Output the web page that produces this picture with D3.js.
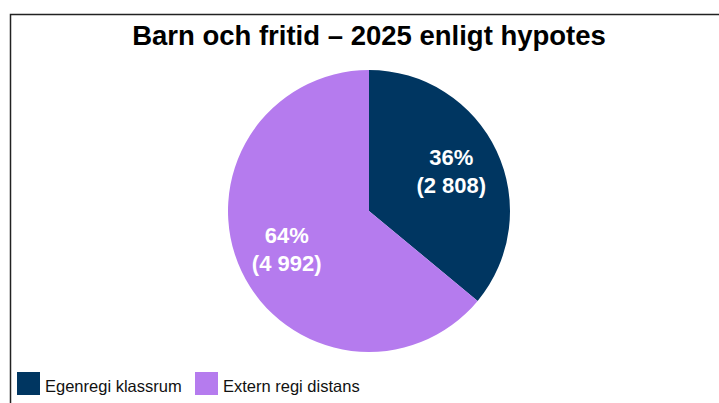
<!DOCTYPE html>
<html>
<head>
<meta charset="utf-8">
<script src="https://cdn.jsdelivr.net/npm/d3@7"></script>
<style>
  body { margin: 0; background: #fff; }
  text { font-family: Arial, "Liberation Sans", sans-serif; }
</style>
</head>
<body>
<svg id="chart"></svg>
<script>
var categories = ["Egenregi klassrum", "Extern regi distans"];
var counts = [2808, 4992];
var percents = [36, 64];
var colors = ["#003661", "#b57bee"];
var title = "Barn och fritid \u2013 2025 enligt hypotes";

var width = 719,
  height = 403,
  cx = 369,
  cy = 211,
  radius = 141;

var svg = d3.select("#chart")
  .attr("width", width)
  .attr("height", height);

// frame
svg.append("path")
  .attr("d", "M10.5," + height + "V14.5H" + width)
  .attr("fill", "none")
  .attr("stroke", "#222")
  .attr("stroke-width", 1.5);

svg.append("text")
  .attr("x", cx)
  .attr("y", 45)
  .attr("text-anchor", "middle")
  .attr("font-size", 27.5)
  .attr("font-weight", "bold")
  .attr("fill", "#000")
  .text(title);

var pie = d3.pie().sort(null).value(function (d) { return d; });
var arcs = pie(counts);

var arc = d3.arc().innerRadius(0).outerRadius(radius);
var labelArc = d3.arc().innerRadius(radius * 0.645).outerRadius(radius * 0.645);

var g = svg.append("g")
  .attr("transform", "translate(" + cx + "," + cy + ")");

g.selectAll("path.slice")
  .data(arcs)
  .enter().append("path")
  .attr("class", "slice")
  .attr("d", arc)
  .attr("fill", function (d, i) { return colors[i]; });

var fmt = function (n) { return d3.format(",d")(n).replace(/,/g, " "); };

var labels = g.selectAll("text.lbl")
  .data(arcs)
  .enter().append("text")
  .attr("class", "lbl")
  .attr("transform", function (d) {
    var c = labelArc.centroid(d);
    return "translate(" + c[0] + "," + c[1] + ")";
  })
  .attr("text-anchor", "middle")
  .attr("font-size", 22)
  .attr("font-weight", "bold")
  .attr("fill", "#fff");

labels.append("tspan")
  .attr("x", 0)
  .attr("dy", "-0.32em")
  .text(function (d, i) { return percents[i] + "%"; });
labels.append("tspan")
  .attr("x", 0)
  .attr("dy", "1.27em")
  .text(function (d, i) { return "(" + fmt(counts[i]) + ")"; });

// legend
var legendX = [17, 195];
var leg = svg.selectAll("g.legend")
  .data(categories)
  .enter().append("g")
  .attr("class", "legend")
  .attr("transform", function (d, i) { return "translate(" + legendX[i] + ",372)"; });

leg.append("rect")
  .attr("width", 23)
  .attr("height", 23)
  .attr("fill", function (d, i) { return colors[i]; });

leg.append("text")
  .attr("x", 28)
  .attr("y", 19.5)
  .attr("font-size", 16.5)
  .attr("fill", "#111")
  .text(function (d) { return d; });
</script>
</body>
</html>
